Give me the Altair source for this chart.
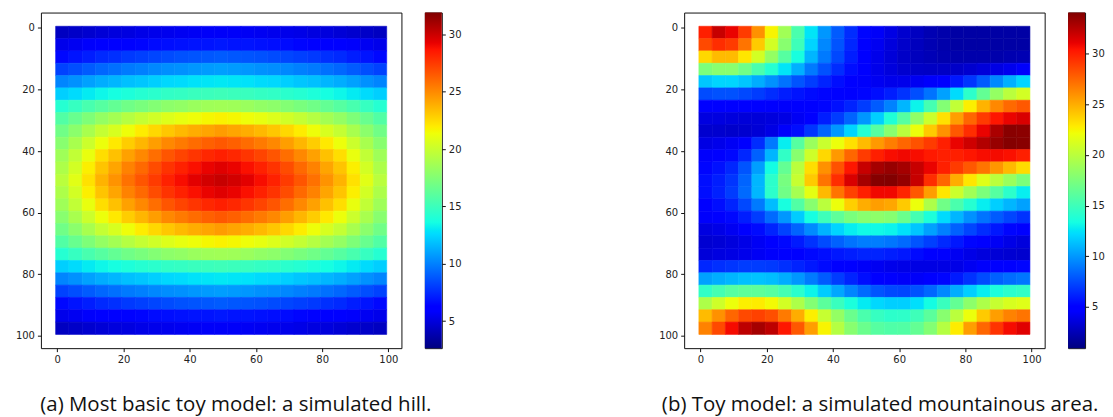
import altair as alt
import numpy as np
import pandas as pd

CELL_STARTS = list(range(0, 100, 4))
TICKS = [0, 20, 40, 60, 80, 100]
CAPTION_A = "(a) Most basic toy model: a simulated hill."
CAPTION_B = "(b) Toy model: a simulated mountainous area."
RANGE_A = [2.65, 31.9]
RANGE_B = [0.93, 34.05]
CBAR_TICKS = [5, 10, 15, 20, 25, 30]

# Values, one row per 4 units of y, one column per 4 units of x.
HILL = [
[2.8,3.0,3.2,3.4,3.6,3.7,3.9,4.0,4.1,4.2,4.3,4.4,4.4,4.4,4.3,4.2,4.1,4.0,3.9,3.7,3.6,3.4,3.2,3.0,2.8],
[4.0,4.2,4.5,4.7,4.9,5.1,5.2,5.4,5.5,5.6,5.7,5.7,5.8,5.7,5.7,5.6,5.5,5.4,5.2,5.1,4.9,4.7,4.5,4.2,4.0],
[5.3,5.7,6.0,6.4,6.6,6.9,7.1,7.3,7.5,7.7,7.8,7.9,8.0,7.9,7.8,7.7,7.5,7.3,7.1,6.9,6.6,6.4,6.0,5.7,5.3],
[7.2,7.6,8.0,8.4,8.7,9.0,9.2,9.5,9.7,9.8,10.0,10.1,10.2,10.1,10.0,9.8,9.7,9.5,9.2,9.0,8.7,8.4,8.0,7.6,7.2],
[9.4,9.8,10.3,10.7,11.0,11.3,11.5,11.8,12.1,12.2,12.4,12.5,12.6,12.5,12.4,12.2,12.1,11.8,11.5,11.3,11.0,10.7,10.3,9.8,9.4],
[11.8,12.2,12.7,13.1,13.4,13.7,14.0,14.2,14.5,14.6,14.8,14.9,15.0,14.9,14.8,14.6,14.5,14.2,14.0,13.7,13.4,13.1,12.7,12.2,11.8],
[14.0,14.7,15.4,16.0,16.5,17.0,17.4,17.8,18.2,18.4,18.7,18.9,19.0,18.9,18.7,18.4,18.2,17.8,17.4,17.0,16.5,16.0,15.4,14.7,14.0],
[15.8,16.7,17.6,18.5,19.1,19.8,20.4,20.9,21.4,21.8,22.1,22.4,22.6,22.4,22.1,21.8,21.4,20.9,20.4,19.8,19.1,18.5,17.6,16.7,15.8],
[17.0,18.1,19.3,20.4,21.2,22.1,22.8,23.5,24.1,24.6,25.0,25.3,25.6,25.3,25.0,24.6,24.1,23.5,22.8,22.1,21.2,20.4,19.3,18.1,17.0],
[18.0,19.3,20.7,22.0,22.9,23.9,24.7,25.5,26.3,26.8,27.3,27.7,28.0,27.7,27.3,26.8,26.3,25.5,24.7,23.9,22.9,22.0,20.7,19.3,18.0],
[18.9,20.3,21.9,23.3,24.3,25.4,26.3,27.2,28.1,28.7,29.2,29.7,30.0,29.7,29.2,28.7,28.1,27.2,26.3,25.4,24.3,23.3,21.9,20.3,18.9],
[19.5,21.0,22.7,24.2,25.3,26.5,27.4,28.4,29.3,29.9,30.5,31.0,31.3,31.0,30.5,29.9,29.3,28.4,27.4,26.5,25.3,24.2,22.7,21.0,19.5],
[20.0,21.6,23.2,24.8,25.9,27.1,28.1,29.0,29.9,30.6,31.2,31.7,32.0,31.7,31.2,30.6,29.9,29.0,28.1,27.1,25.9,24.8,23.2,21.6,20.0],
[19.5,21.0,22.7,24.2,25.3,26.5,27.4,28.4,29.3,29.9,30.5,31.0,31.3,31.0,30.5,29.9,29.3,28.4,27.4,26.5,25.3,24.2,22.7,21.0,19.5],
[18.9,20.3,21.9,23.3,24.3,25.4,26.3,27.2,28.1,28.7,29.2,29.7,30.0,29.7,29.2,28.7,28.1,27.2,26.3,25.4,24.3,23.3,21.9,20.3,18.9],
[18.0,19.3,20.7,22.0,22.9,23.9,24.7,25.5,26.3,26.8,27.3,27.7,28.0,27.7,27.3,26.8,26.3,25.5,24.7,23.9,22.9,22.0,20.7,19.3,18.0],
[17.0,18.1,19.3,20.4,21.2,22.1,22.8,23.5,24.1,24.6,25.0,25.3,25.6,25.3,25.0,24.6,24.1,23.5,22.8,22.1,21.2,20.4,19.3,18.1,17.0],
[15.8,16.7,17.6,18.5,19.1,19.8,20.4,20.9,21.4,21.8,22.1,22.4,22.6,22.4,22.1,21.8,21.4,20.9,20.4,19.8,19.1,18.5,17.6,16.7,15.8],
[14.0,14.7,15.4,16.0,16.5,17.0,17.4,17.8,18.2,18.4,18.7,18.9,19.0,18.9,18.7,18.4,18.2,17.8,17.4,17.0,16.5,16.0,15.4,14.7,14.0],
[11.8,12.2,12.7,13.1,13.4,13.7,14.0,14.2,14.5,14.6,14.8,14.9,15.0,14.9,14.8,14.6,14.5,14.2,14.0,13.7,13.4,13.1,12.7,12.2,11.8],
[9.4,9.8,10.3,10.7,11.0,11.3,11.5,11.8,12.1,12.2,12.4,12.5,12.6,12.5,12.4,12.2,12.1,11.8,11.5,11.3,11.0,10.7,10.3,9.8,9.4],
[7.2,7.6,8.0,8.4,8.7,9.0,9.2,9.5,9.7,9.8,10.0,10.1,10.2,10.1,10.0,9.8,9.7,9.5,9.2,9.0,8.7,8.4,8.0,7.6,7.2],
[5.3,5.7,6.0,6.4,6.6,6.9,7.1,7.3,7.5,7.7,7.8,7.9,8.0,7.9,7.8,7.7,7.5,7.3,7.1,6.9,6.6,6.4,6.0,5.7,5.3],
[4.0,4.2,4.5,4.7,4.9,5.1,5.2,5.4,5.5,5.6,5.7,5.7,5.8,5.7,5.7,5.6,5.5,5.4,5.2,5.1,4.9,4.7,4.5,4.2,4.0],
[2.8,3.0,3.2,3.4,3.6,3.7,3.9,4.0,4.1,4.2,4.3,4.4,4.4,4.4,4.3,4.2,4.1,4.0,3.9,3.7,3.6,3.4,3.2,3.0,2.8],
]

MOUNTAINS = [
[30,32,31,29,26,22.5,19,15.5,12.5,10,8,6.5,5.2,4.4,3.8,3.2,2.8,2.4,2.2,2,2,2,2,2,2],
[28.5,29.5,29,27,24,21,18,15,12,9.5,7.8,6.3,5,4.2,3.6,3.1,2.7,2.4,2.2,2,2,2,2,2,2],
[23.5,24.5,24.5,23,21,18.5,16,13.5,11,9,7.4,6,4.8,4,3.5,3,2.7,2.5,2.3,2.2,2.2,2.2,2.2,2.3,2.4],
[17.5,18,18,17,15.5,14,12.5,10.8,9,7.7,6.5,5.5,4.6,4,3.6,3.2,3,2.9,2.9,3,3.2,3.5,3.8,4.1,4.5],
[11.5,12,12,11.5,10.7,9.8,8.8,7.8,7,6.2,5.5,5,4.5,4.2,4,4,4.2,4.5,5,5.8,6.8,8,9.5,10.8,12],
[7.5,7.7,7.7,7.4,7,6.5,6,5.7,5.4,5.2,5.1,5,5.2,5.5,6,6.7,7.6,8.8,10.3,12.2,14.3,16.5,18.5,20,21],
[5,5,5,4.9,4.8,4.6,4.5,4.6,4.8,5.2,5.6,6.2,7,8,9.3,11,13,15.3,17.8,20.3,22.7,24.8,26.3,27.4,28],
[3.7,3.7,3.6,3.5,3.5,3.6,3.8,4.3,5,6,7,8.3,10,11.8,13.8,16,18.3,20.7,23.2,25.5,27.5,29,30.3,31,31.5],
[3.2,3.2,3.1,3.2,3.4,3.8,4.5,5.5,6.8,8.3,10,12,14,16,18,20,22,24,26,28,29.5,31,32.8,33.8,33.7],
[3.8,4,4.3,5,6.5,9,12.8,16,18.7,20.6,22,23.2,24.5,25.7,26.7,27.5,28.2,29,30,31,31.8,32.6,33.4,33.9,33.8],
[4.5,4.8,5.3,6.3,8.2,11,14.5,18,20.8,23.5,25.7,27.5,29,30,30.6,30.8,30.6,30.2,30,30,30.3,30.6,30.7,30.5,30],
[5.2,5.6,6.3,7.8,10.2,13.3,16.5,20,23.3,26,28.2,30.3,32,33,33.4,33,32,31,30,29,28,27,25.8,24.6,23.4],
[5.5,6,6.8,8.3,11,14.3,17.3,20.5,24,27,29.5,31.5,33,33.9,34,33.5,32,29.5,27.5,25,23,21.5,20,18.7,17.5],
[5.5,6.1,7,8.5,11,14.3,17,19.2,21.7,24.6,27,28.8,30,30.8,30.8,29.8,28,25.5,23,20.7,19,17.5,16,14.3,12.8],
[5,5.5,6.2,7.4,9,11.2,13.5,15.8,18,20,22,23.8,25,25.5,25.2,24,22,19.5,17,15.5,14,12.8,11.8,11,10.3],
[4.5,4.8,5.3,6,7,8.5,10,11.7,13.4,15,16.3,17.4,18,18.2,17.9,16.8,15.3,13.7,12.2,11,9.8,8.8,8,7.3,6.7],
[3.7,3.9,4.2,4.7,5.4,6.2,7.2,8.3,9.6,10.9,12,12.8,13.2,13.2,13,12.4,11.5,10.3,9.2,8.2,7.3,6.5,5.8,5.2,4.7],
[3.3,3.4,3.6,3.9,4.3,4.8,5.3,5.9,6.7,7.5,8.2,8.8,9.1,9.1,8.9,8.5,7.8,7.1,6.4,5.8,5.2,4.7,4.3,3.9,3.6],
[3.5,3.7,3.8,4,4.3,4.5,4.7,5,5.3,5.5,5.8,6,6.2,6.2,6,5.8,5.4,5,4.6,4.2,3.9,3.6,3.4,3.3,3.2],
[6.3,6.6,6.8,7,7,6.9,6.6,6.2,5.8,5.4,5,4.7,4.4,4.2,4,3.9,3.8,3.8,3.8,3.9,4.2,4.5,4.8,5,5.2],
[10.3,10.7,11,11.3,11.4,11.2,10.7,10,9,8,7,6.2,5.5,5,4.6,4.4,4.4,4.7,5.2,5.9,6.7,7.5,8.2,8.6,8.9],
[14.5,15.3,16,16.3,16.3,16,15.3,14.2,13,11.7,10.5,9.4,8.5,7.8,7.4,7.3,7.7,8.4,9.5,10.7,11.8,12.8,13.6,14.2,14.5],
[19.5,20.8,22,22.7,22.8,22.3,21,19.5,17.8,16.2,14.8,13.6,12.7,12.1,11.8,11.8,12.3,13.3,14.8,16.5,18.2,19.5,20.5,21.2,21.5],
[24.5,26,27.5,28.5,28.8,28.3,26.8,25,22.7,20.5,18.5,16.8,15.5,14.7,14.3,14.4,15,16.2,18,20,22,24,25.5,26.5,27],
[26.5,28.5,30.7,32.3,33,32.3,30.3,28,25.5,22.5,19.8,18,16.8,16,15.7,15.8,16.5,17.8,19.8,22.8,25.5,27.5,29.3,30.7,31.3],
]

JET_POS = [0, .11, .125, .34, .35, .375, .64, .65, .66, .89, .91, 1]
def jet_hex(t):
    r = np.interp(t, [0, .35, .66, .89, 1], [0, 0, 1, 1, .5])
    g = np.interp(t, [0, .125, .375, .64, .91, 1], [0, 0, 1, 1, 0, 0])
    b = np.interp(t, [0, .11, .34, .65, 1], [.5, 1, 1, 0, 0])
    return "#%02x%02x%02x" % (round(r * 255), round(g * 255), round(b * 255))
JET_COLORS = [jet_hex(t) for t in JET_POS]
JET_RAMP = [jet_hex(i / 128) for i in range(129)]

PLOT_W, PLOT_H, BAR_W = 361.5, 336.5, 17
GAP = 23
SPACER_W = 197

def table(matrix):
    rows = []
    for yi, row in zip(CELL_STARTS, matrix):
        for xi, v in zip(CELL_STARTS, row):
            rows.append(dict(x=xi - .5, x2=xi + 3.5, y=yi - .5, y2=yi + 3.5, v=v))
    return pd.DataFrame(rows)

def axis_cfg(**kw):
    return alt.Axis(grid=False, tickSize=3.5, tickColor="#111", domain=False,
                    labelFont="DejaVu Sans", labelFontSize=10, labelColor="#222",
                    labelPadding=3, **kw)

def panel(matrix, vrange, caption, title_x):
    cscale = alt.Scale(domain=vrange, range=JET_RAMP, clamp=True, interpolate="rgb")
    return alt.Chart(table(matrix)).mark_rect(strokeWidth=0.6).encode(
        x=alt.X("x:Q", scale=alt.Scale(domain=[-4.95, 103.95], nice=False, zero=False),
                axis=axis_cfg(values=TICKS, title=caption, titleFont="Open Sans", titleFontSize=20.5,
                              titleFontWeight="normal", titleColor="#111", titleX=title_x,
                              titleY=63, titleAlign="center", titleBaseline="alphabetic",
                              titleAnchor="middle")),
        x2="x2:Q",
        y=alt.Y("y:Q", scale=alt.Scale(domain=[103.95, -4.95], nice=False, zero=False),
                axis=axis_cfg(values=TICKS, title=None)),
        y2="y2:Q",
        color=alt.Color("v:Q", scale=cscale, legend=None),
        stroke=alt.Stroke("v:Q", scale=cscale, legend=None),
    ).properties(width=PLOT_W, height=PLOT_H)

def colorbar(vrange):
    grad = alt.Gradient(gradient="linear", x1=0, y1=1, x2=0, y2=0,
                        stops=[alt.GradientStop(offset=p, color=c) for p, c in zip(JET_POS, JET_COLORS)])
    return alt.Chart(pd.DataFrame({"lo": [vrange[0]], "hi": [vrange[1]]})).mark_rect(fill=grad).encode(
        x=alt.value(0), x2=alt.value(BAR_W),
        y=alt.Y("lo:Q", scale=alt.Scale(domain=vrange, nice=False, zero=False),
                axis=axis_cfg(values=CBAR_TICKS, orient="right", title=None)),
        y2="hi:Q",
    ).properties(width=BAR_W, height=PLOT_H)

spacer = alt.Chart(pd.DataFrame({"a": [0]})).mark_point(opacity=0).encode(
    x=alt.value(0), y=alt.value(0)
).properties(width=SPACER_W, height=PLOT_H, view=alt.ViewBackground(strokeOpacity=0))

chart = alt.hconcat(
    panel(HILL, RANGE_A, CAPTION_A, 195), colorbar(RANGE_A), spacer,
    panel(MOUNTAINS, RANGE_B, CAPTION_B, 196), colorbar(RANGE_B),
    spacing=GAP, bounds="flush",
).properties(
    padding={"left": 6, "top": 1, "right": 0, "bottom": 12}
).configure_view(stroke="#111", strokeWidth=1)

chart.save("out.html", embed_options={"renderer": "svg", "actions": False})
